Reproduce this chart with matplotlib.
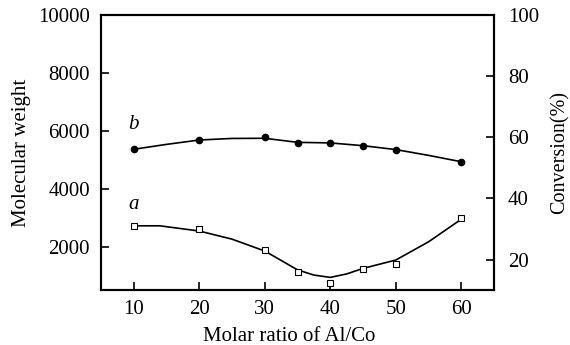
import matplotlib
matplotlib.use('Agg')
import matplotlib.pyplot as plt

plt.rcParams['font.family'] = ['Liberation Serif', 'DejaVu Serif']

# Measured points (Al/Co molar ratio vs molecular weight)
ratio = [10, 20, 30, 35, 40, 45, 50, 60]
mw_b = [5370, 5680, 5800, 5570, 5590, 5480, 5350, 4930]
mw_a = [2710, 2620, 1880, 1130, 750, 1240, 1390, 2980]

# Smoothed trend lines
fit_x_a = [10, 14, 20, 25, 30, 33, 35, 37.5, 40, 42.5, 45, 50, 55, 60]
fit_a = [2720, 2720, 2540, 2260, 1850, 1460, 1200, 1020, 940, 1060, 1250, 1540, 2170, 2950]
fit_x_b = [10, 15, 20, 25, 30, 35, 40, 45, 50, 55, 60]
fit_b = [5360, 5530, 5680, 5735, 5740, 5600, 5580, 5485, 5350, 5150, 4930]

mw_ticks = [2000, 4000, 6000, 8000, 10000]
conv_ticks = [20, 40, 60, 80, 100]
x_ticks = [10, 20, 30, 40, 50, 60]

fig = plt.figure(figsize=(5.7, 3.45), dpi=100)
ax = fig.add_axes([0.177, 0.159, 0.690, 0.798])

ax.plot(fit_x_b, fit_b, color='black', lw=1.2)
ax.plot(fit_x_a, fit_a, color='black', lw=1.2)
ax.plot(ratio, mw_b, 'o', color='black', ms=4.5)
ax.plot(ratio, mw_a, 's', mfc='white', mec='black', mew=0.8, ms=3.8)

ax.text(10, 5900, 'b', style='italic', fontsize=15, ha='center', va='bottom')
ax.text(10, 3120, 'a', style='italic', fontsize=15, ha='center', va='bottom')

ax.set_xlim(5, 65)
ax.set_ylim(500, 10000)
ax.set_xticks(x_ticks)
ax.set_yticks(mw_ticks)
ax.tick_params(direction='in', length=6, width=1.2, labelsize=15)
ax.tick_params(axis='x', pad=7)
ax.tick_params(axis='y', pad=8)
ax.set_xlabel('Molar ratio of Al/Co', fontsize=15)
ax.xaxis.set_label_coords(0.48, -0.135)
ax.set_ylabel('Molecular weight', fontsize=15, labelpad=5)

ax2 = ax.twinx()
ax2.set_ylim(10, 100)
ax2.set_yticks(conv_ticks)
ax2.tick_params(direction='in', length=6, width=1.2, labelsize=15, pad=10)
ax2.set_ylabel('Conversion(%)', fontsize=14.5, labelpad=8)

for a in (ax, ax2):
    for s in a.spines.values():
        s.set_linewidth(1.5)

fig.savefig('out.png', dpi=100)
